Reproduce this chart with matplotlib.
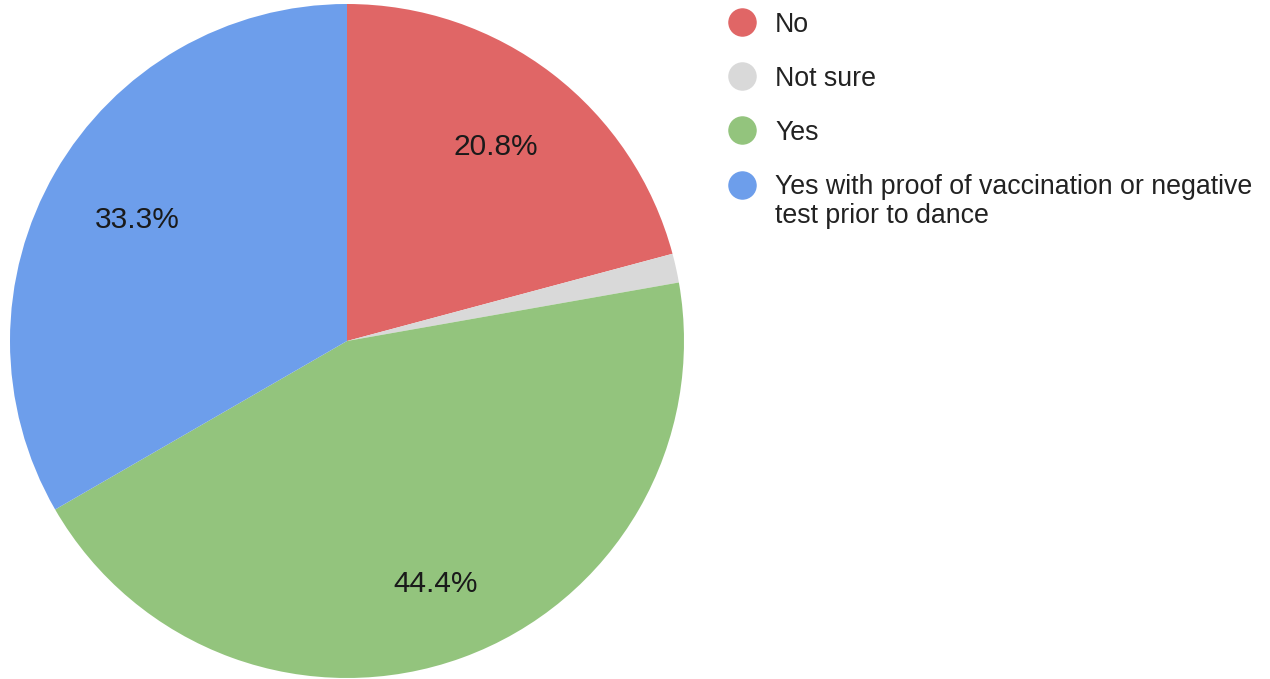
import numpy as np
import matplotlib.pyplot as plt
from matplotlib.lines import Line2D

labels = ["No", "Not sure", "Yes", "Yes with proof of vaccination or negative\ntest prior to dance"]
counts = [15, 1, 32, 24]
colors = ["#e06666", "#d9d9d9", "#93c47d", "#6d9eeb"]
label_dist = [0.727, 0.73, 0.766, 0.72]

plt.rcParams["font.family"] = ["Liberation Sans", "DejaVu Sans"]

fig = plt.figure(figsize=(12.7, 6.79), dpi=100)
W, H = 1270, 679
cx, cy, r = 347, 341, 337
ax = fig.add_axes([(cx - r) / W, (H - cy - r) / H, 2 * r / W, 2 * r / H])

wedges, texts, autotexts = ax.pie(
    counts, colors=colors, startangle=90, counterclock=False,
    autopct=lambda p: f"{p:.1f}%" if p > 5 else "", pctdistance=0.73,
    wedgeprops=dict(linewidth=0), textprops=dict(fontsize=21.5, color="#1a1a1a"))
ax.set_xlim(-1, 1)
ax.set_ylim(-1, 1)
ax.set_aspect("equal")

# move labels to the distances Google used
for w, t, d in zip(wedges, autotexts, label_dist):
    ang = np.deg2rad((w.theta1 + w.theta2) / 2)
    t.set_position((d * np.cos(ang), d * np.sin(ang)))

# legend drawn by hand
marker_y = [22, 76, 130, 185]
for lab, col, my in zip(labels, colors, marker_y):
    fig.add_artist(Line2D([742 / W], [1 - my / H], marker="o", markersize=19.5,
                          color=col, linestyle="none", transform=fig.transFigure))
    fig.text(775 / W, 1 - (my + 9.5) / H, lab.split("\n")[0], fontsize=19.3,
             color="#222222", va="baseline", ha="left")
    if "\n" in lab:
        fig.text(775 / W, 1 - (my + 38.5) / H, lab.split("\n")[1], fontsize=19.3,
                 color="#222222", va="baseline", ha="left")

fig.savefig("out.png", dpi=100)
